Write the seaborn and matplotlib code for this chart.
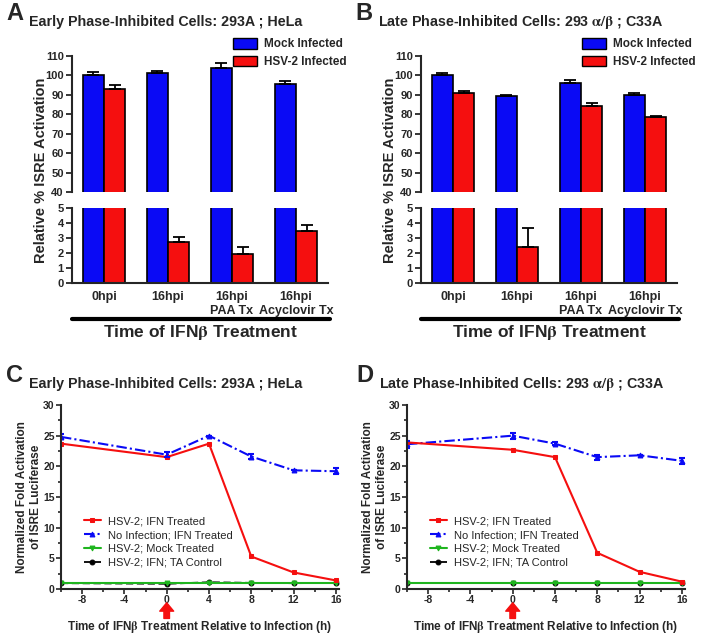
import matplotlib
matplotlib.use("Agg")
import matplotlib.pyplot as plt
from matplotlib.lines import Line2D
from matplotlib.patches import Patch
from matplotlib.ticker import MultipleLocator
import seaborn as sns
import pandas as pd

sns.set_theme(style="ticks")
plt.rcParams['font.family'] = ['Liberation Sans', 'DejaVu Sans']
plt.rcParams['mathtext.fontset'] = 'stix'
plt.rcParams['font.weight'] = 'bold'
plt.rcParams['axes.unicode_minus'] = False

BLUE = "#0a0af5"
RED = "#f50f0f"

# ---- bar data (panels A, B) ----
groups = ["0hpi", "16hpi", "16hpi\nPAA Tx", "16hpi\nAcyclovir Tx"]
conditions = ["Mock Infected", "HSV-2 Infected"]

a_mock = [100.2, 101.4, 104.0, 95.5]
a_mock_err = [1.8, 1.1, 2.5, 1.7]
a_hsv = [93.0, 2.73, 1.93, 3.49]
a_hsv_err = [2.0, 0.36, 0.49, 0.38]

b_mock = [100.0, 89.6, 96.3, 89.7]
b_mock_err = [1.2, 0.4, 1.2, 1.5]
b_hsv = [91.2, 2.4, 84.4, 78.6]
b_hsv_err = [0.7, 1.24, 1.6, 0.4]

# ---- line data (panels C, D) ----
hours = [-10, 0, 4, 8, 12, 16]
c_ifn = [23.7, 21.5, 23.7, 5.3, 2.7, 1.4]
c_noinf = [24.8, 21.9, 25.0, 21.6, 19.35, 19.2]
c_noinf_err = [0.4, 0.4, 0.0, 0.4, 0.0, 0.5]
c_mock = [1.0, 1.0, 1.0, 1.0, 1.0, 1.0]
c_ta = [0.95, 0.85, 1.1, 1.0, 0.95, 1.0]

d_ifn = [23.9, 22.7, 21.5, 5.9, 2.8, 1.2]
d_noinf = [23.6, 25.0, 23.7, 21.5, 21.8, 20.9]
d_noinf_err = [0.6, 0.5, 0.3, 0.4, 0.0, 0.5]
d_mock = [1.0, 1.0, 1.0, 1.0, 1.0, 1.0]
d_ta = [1.0, 1.0, 1.0, 1.0, 1.0, 1.0]

series_names = ["HSV-2; IFN Treated", "No Infection; IFN Treated",
                "HSV-2; Mock Treated", "HSV-2; IFN; TA Control"]

fig = plt.figure(figsize=(7.01, 6.34), dpi=100)
W, H = 701.0, 634.0


def box(x0, x1, ytop, ybot):
    return [x0 / W, 1 - ybot / H, (x1 - x0) / W, (ybot - ytop) / H]


def bar_panel(x0, mock, mock_err, hsv, hsv_err, letter, title):
    df = pd.DataFrame({
        "group": groups * 2,
        "cond": [conditions[0]] * 4 + [conditions[1]] * 4,
        "value": mock + hsv,
    })
    ax_top = fig.add_axes(box(x0, x0 + 256, 56, 192))
    ax_bot = fig.add_axes(box(x0, x0 + 256, 208, 283))
    for ax in (ax_top, ax_bot):
        sns.barplot(data=df, x="group", y="value", hue="cond", order=groups,
                    hue_order=conditions, palette=[BLUE, RED], width=0.66,
                    errorbar=None, edgecolor="black", linewidth=1.2,
                    saturation=1, legend=False, ax=ax)
        for cont, errs in zip(ax.containers, [mock_err, hsv_err]):
            for bar, e in zip(cont, errs):
                xc = bar.get_x() + bar.get_width() / 2
                ax.errorbar(xc, bar.get_height(), yerr=[[0], [e]], color="black",
                            capsize=4, elinewidth=1.3, capthick=1.3)
        ax.set_xlim(-0.5, 3.5)
        ax.set_xlabel("")
        ax.set_ylabel("")
        for s in ax.spines.values():
            s.set_linewidth(1.5)
        ax.tick_params(axis="y", labelsize=8, width=1.3, length=4, pad=2)
    ax_top.set_ylim(40, 110)
    ax_top.set_yticks(range(40, 111, 10))
    ax_top.spines[["top", "right", "bottom"]].set_visible(False)
    ax_top.set_xticks([])
    ax_bot.set_ylim(0, 5)
    ax_bot.set_yticks(range(0, 6))
    ax_bot.spines[["top", "right"]].set_visible(False)
    ax_bot.tick_params(axis="x", length=0, labelsize=9, pad=6)
    for lab in ax_bot.get_xticklabels():
        lab.set_fontweight("bold")
    for lab in ax_top.get_yticklabels() + ax_bot.get_yticklabels():
        lab.set_fontweight("bold")

    handles = [Patch(facecolor=BLUE, edgecolor="black", label=conditions[0]),
               Patch(facecolor=RED, edgecolor="black", label=conditions[1])]
    ax_top.legend(handles=handles, loc="upper right", bbox_to_anchor=(1.115, 1.21),
                  frameon=False, prop={"size": 8.5, "weight": "bold"},
                  handlelength=2.0, handleheight=1.0, labelspacing=0.45,
                  handletextpad=0.6)

    fig.text((x0 - 31) / W, 1 - 170 / H, "Relative % ISRE Activation", rotation=90,
             ha="center", va="center", fontsize=10.5, fontweight="bold")
    fig.add_artist(Line2D([x0 / W, (x0 + 258) / W], [1 - 319 / H] * 2,
                          color="black", lw=3))
    fig.text((x0 + 128) / W, 1 - 333 / H, r"Time of IFN$\mathrm{\beta}$ Treatment",
             ha="center", va="center", fontsize=12.5, fontweight="bold")
    fig.text((x0 - 66) / W, 1 - 14 / H, letter, ha="left", va="center",
             fontsize=17, fontweight="bold")
    fig.text((x0 - 43) / W, 1 - 22 / H, title, ha="left", va="center",
             fontsize=10.3, fontweight="bold")


def line_panel(x0, ifn, noinf, noinf_err, mock, ta, letter, title, dl, dt):
    ax = fig.add_axes(box(x0, x0 + 278, 405, 589))
    df = pd.DataFrame({"h": hours * 4,
                       "val": ifn + noinf + mock + ta,
                       "series": sum([[n] * len(hours) for n in series_names], [])})
    styles = [
        dict(color=RED, ls="-", marker="s", ms=3.5, lw=1.5),
        dict(color=BLUE, ls=(0, (5, 1.5, 1, 1.5)), marker="^", ms=3.5, lw=1.5),
        dict(color="#1fb51f", ls="-", marker="v", ms=3.5, lw=1.5),
        dict(color="black", ls=(0, (4, 2)), marker="o", ms=3.5, lw=1.3),
    ]
    for name, st in zip(series_names[::-1], styles[::-1]):
        sns.lineplot(data=df[df.series == name], x="h", y="val", color=st["color"],
                     linestyle=st["ls"], marker=st["marker"], markersize=st["ms"],
                     markeredgecolor=st["color"], linewidth=st["lw"], ax=ax,
                     label=name, errorbar=None)
    ax.errorbar(hours, noinf, yerr=noinf_err, fmt="none", ecolor=BLUE,
                capsize=2.5, elinewidth=1.5, capthick=1.5)
    ax.set_xlim(-10, 16.3)
    ax.set_ylim(0, 30)
    ax.set_xticks(range(-8, 17, 4))
    ax.xaxis.set_minor_locator(MultipleLocator(2))
    ax.set_yticks(range(0, 31, 5))
    ax.yaxis.set_minor_locator(MultipleLocator(2.5))
    ax.spines[["top", "right"]].set_visible(False)
    for s in ax.spines.values():
        s.set_linewidth(1.5)
    ax.tick_params(which="both", labelsize=7.5, width=1.2, pad=1)
    ax.tick_params(which="major", length=3.5)
    ax.tick_params(which="minor", length=2)
    for lab in ax.get_xticklabels() + ax.get_yticklabels():
        lab.set_fontweight("bold")
    ax.set_xlabel(r"Time of IFN$\mathrm{\beta}$ Treatment Relative to Infection (h)",
                  fontsize=8.5, fontweight="bold", va="top")
    ax.xaxis.set_label_coords(0.5, -0.165)
    ax.set_ylabel("Normalized Fold Activation\nof ISRE Luciferase", fontsize=8.5,
                  fontweight="bold")
    ax.yaxis.set_label_coords(-0.068, 0.5)
    hnd, lbl = ax.get_legend_handles_labels()
    order = [lbl.index(n) for n in series_names]
    ax.legend([hnd[i] for i in order], [lbl[i] for i in order], loc="upper left",
              bbox_to_anchor=(0.045, 0.45), frameon=False,
              prop={"size": 8, "weight": "normal"}, handlelength=1.6,
              labelspacing=0.35, handletextpad=0.6)
    ax.annotate("", xy=(0, -0.075), xycoords=("data", "axes fraction"),
                xytext=(0, -0.16), textcoords=("data", "axes fraction"),
                arrowprops=dict(facecolor=RED, edgecolor=RED, width=4,
                                headwidth=10, headlength=6))
    fig.text((x0 - dl) / W, 1 - 375 / H, letter, ha="left", va="center",
             fontsize=17, fontweight="bold")
    fig.text((x0 - dt) / W, 1 - 384 / H, title, ha="left", va="center",
             fontsize=10.3, fontweight="bold")


bar_panel(72, a_mock, a_mock_err, a_hsv, a_hsv_err, "A",
          "Early Phase-Inhibited Cells: 293A ; HeLa")
bar_panel(421, b_mock, b_mock_err, b_hsv, b_hsv_err, "B",
          r"Late Phase-Inhibited Cells: 293 $\mathrm{\alpha/\beta}$ ; C33A")
line_panel(61, c_ifn, c_noinf, c_noinf_err, c_mock, c_ta, "C",
           "Early Phase-Inhibited Cells: 293A ; HeLa", 55, 32)
line_panel(407, d_ifn, d_noinf, d_noinf_err, d_mock, d_ta, "D",
           r"Late Phase-Inhibited Cells: 293 $\mathrm{\alpha/\beta}$ ; C33A", 51, 28)

fig.savefig("out.png", dpi=100)
